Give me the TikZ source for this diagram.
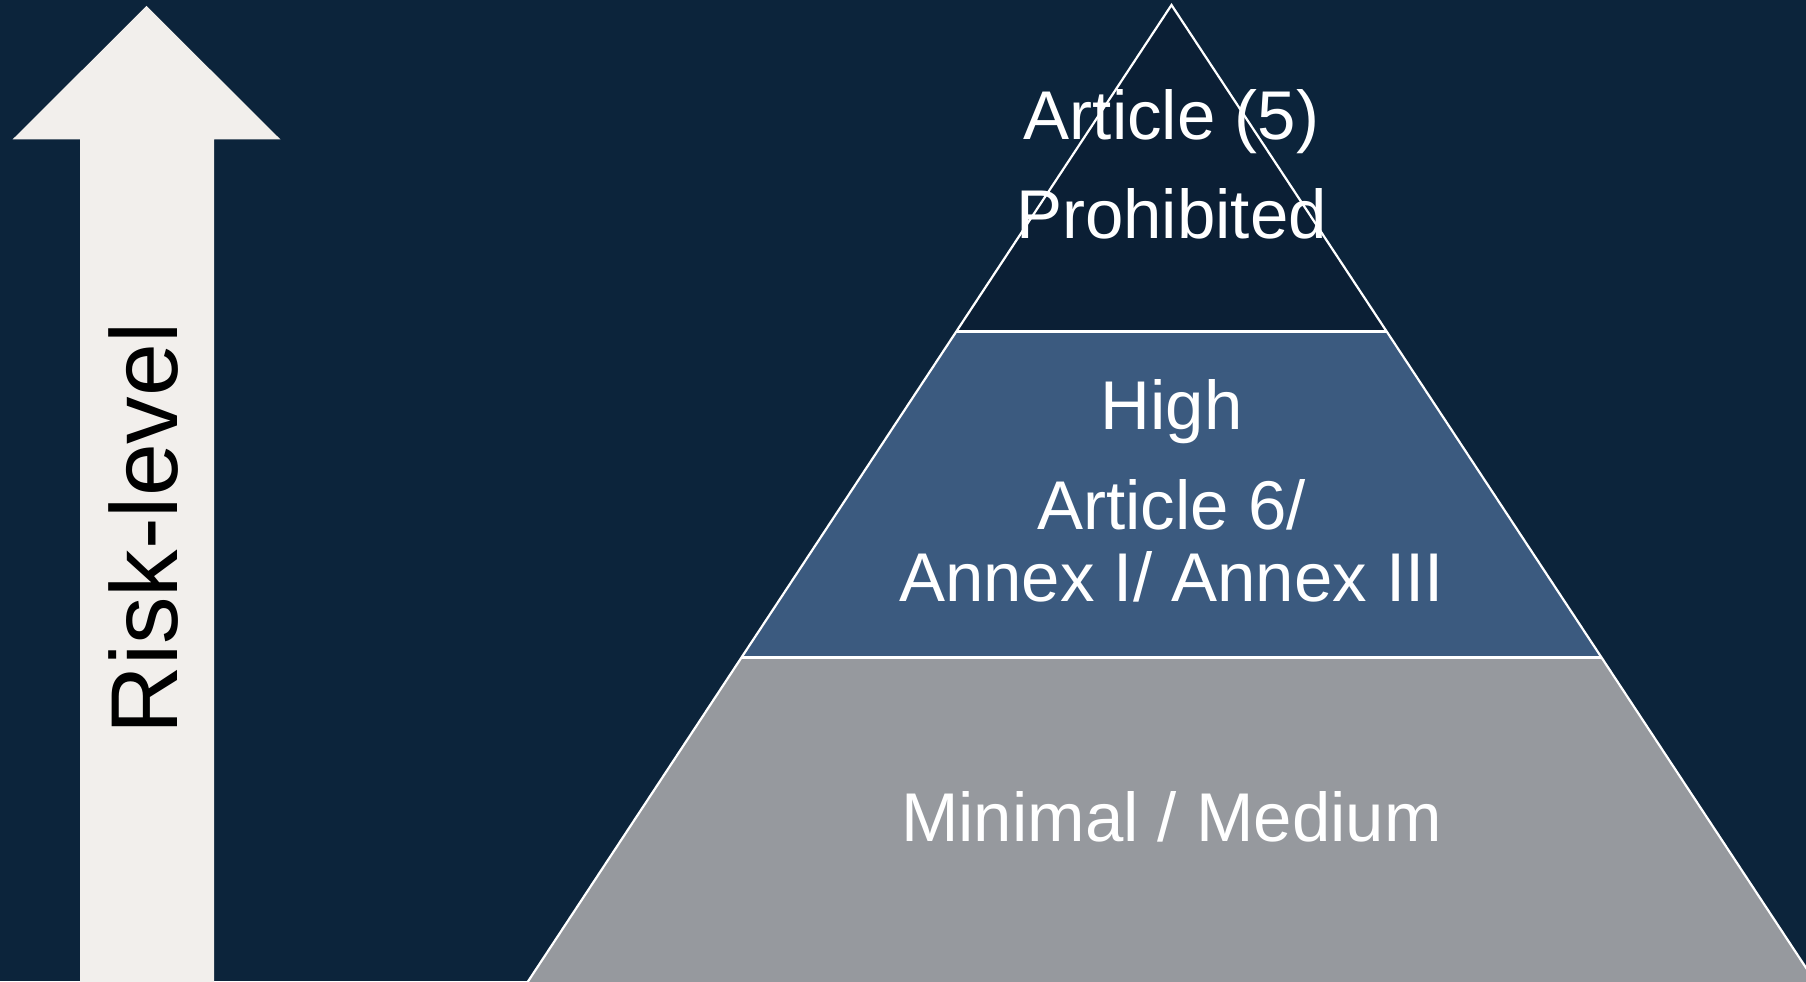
\documentclass[tikz,border=0pt]{standalone}
\usepackage{fontspec}
\setmainfont{Liberation Sans}
\definecolor{bgnavy}{HTML}{0C243B}
\definecolor{topfill}{HTML}{0B1F35}
\definecolor{midfill}{HTML}{3B5A7F}
\definecolor{lowfill}{HTML}{96999E}
\definecolor{arrowfill}{HTML}{F2EFEC}
\tikzset{
  tier/.style={draw=white, line width=2.2bp, line join=miter},
  tiertext/.style={text=white, anchor=base, inner sep=0pt, font=\fontsize{69bp}{76bp}\selectfont},
  risktext/.style={text=black, anchor=base, inner sep=0pt, rotate=90, font=\fontsize{95bp}{100bp}\selectfont}
}
\begin{document}
\begin{tikzpicture}[x=1bp,y=1bp]
\useasboundingbox (0,0) rectangle (1806,981);
\clip (0,0) rectangle (1806,981);
\fill[bgnavy] (0,0) rectangle (1806,981);
% risk arrow
\fill[arrowfill] (80,-5) -- (80,841.5) -- (12.5,841.5) -- (146.5,975) -- (280.5,841.5) -- (214,841.5) -- (214,-5) -- cycle;
\node[risktext] (risk) at (177,452.5) {Risk-level};
% pyramid tiers
\coordinate (apex) at (1171.5,976);
\coordinate (d1l) at (956.5,649.5);
\coordinate (d1r) at (1386.5,649.5);
\coordinate (d2l) at (741.5,323.5);
\coordinate (d2r) at (1601.5,323.5);
\coordinate (bl) at (521.7,-10);
\coordinate (br) at (1821.3,-10);
\fill[lowfill] (d2l) -- (d2r) -- (br) -- (bl) -- cycle;
\fill[midfill] (d1l) -- (d1r) -- (d2r) -- (d2l) -- cycle;
\fill[topfill] (apex) -- (d1r) -- (d1l) -- cycle;
% texts
\node[tiertext] (t1a) at (1171.5,841) {Article (5)};
\node[tiertext] (t1b) at (1171.5,742) {Prohibited};
\node[tiertext] (t2a) at (1171.5,551) {High};
\node[tiertext] (t2b) at (1171.5,451) {Article 6/};
\node[tiertext] (t2c) at (1171.5,379) {Annex I/ Annex III};
\node[tiertext] (t3a) at (1171.5,139) {Minimal / Medium};
% outlines
\draw[tier] (bl) -- (apex) -- (br);
\draw[tier] (d1l) -- (d1r);
\draw[tier] (d2l) -- (d2r);
\end{tikzpicture}
\end{document}
